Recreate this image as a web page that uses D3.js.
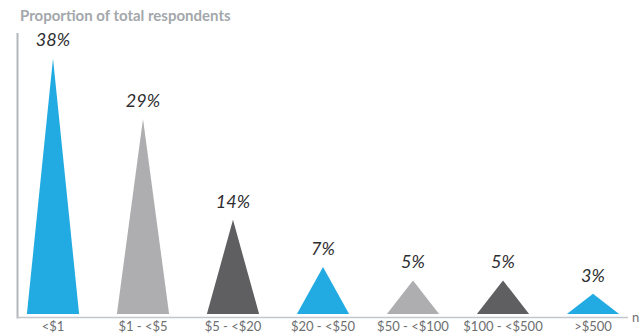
<!DOCTYPE html>
<html>
<head>
<meta charset="utf-8">
<script src="https://cdn.jsdelivr.net/npm/d3@7"></script>
<style>
  html, body { margin: 0; padding: 0; background: #fff; }
  svg { display: block; }
</style>
</head>
<body>
<svg id="chart" width="643" height="333"></svg>
<script>
// Spending brackets and share of respondents in each
const categories = ["<$1", "$1 - <$5", "$5 - <$20", "$20 - <$50", "$50 - <$100", "$100 - <$500", ">$500"];
const shares = [38, 29, 14, 7, 5, 5, 3];
const colors = ["#22abe2", "#aeaeb0", "#5f5f61", "#22abe2", "#aeaeb0", "#5f5f61", "#22abe2"];
const title = "Proportion of total respondents";
const sampleLabel = "n";

const W = 643, H = 333;
const svg = d3.select("#chart");
const font = "Lato, 'Open Sans', 'DejaVu Sans', sans-serif";

const baseY = 314;
const x = d3.scaleBand().domain(categories).range([8, 638]).paddingInner(0.42).paddingOuter(0.21);
const y = d3.scaleLinear().domain([0, 40]).range([baseY, 45]);

// Title
svg.append("text")
  .attr("x", 20).attr("y", 21)
  .attr("font-family", font).attr("font-weight", 700).attr("font-size", 15)
  .attr("fill", "#a3a7ab")
  .text(title);

// Vertical axis line
svg.append("line")
  .attr("x1", 17.5).attr("x2", 17.5).attr("y1", 33).attr("y2", 318.5)
  .attr("stroke", "#b3b7bb").attr("stroke-width", 2);

// Horizontal axis line
svg.append("line")
  .attr("x1", 17).attr("x2", 628).attr("y1", 317.5).attr("y2", 317.5)
  .attr("stroke", "#c3c7cb").attr("stroke-width", 1.5);

// Triangular markers
const data = categories.map((c, i) => ({ c, v: shares[i], col: colors[i] }));
svg.append("g").selectAll("path").data(data).join("path")
  .attr("d", d => {
    const x0 = x(d.c), x1 = x(d.c) + x.bandwidth(), xm = x(d.c) + x.bandwidth() / 2;
    return `M${x0},${y(0)}L${xm},${y(d.v)}L${x1},${y(0)}Z`;
  })
  .attr("fill", d => d.col);

// Value labels above each apex
svg.append("g").selectAll("text").data(data).join("text")
  .attr("x", d => x(d.c) + x.bandwidth() / 2)
  .attr("y", d => y(d.v) - 12)
  .attr("text-anchor", "middle")
  .attr("font-family", font).attr("font-style", "italic").attr("font-size", 18)
  .attr("fill", "#2e2e30")
  .text(d => d.v + "%");

// Category labels via bottom axis
const axis = svg.append("g")
  .attr("transform", `translate(0,${317})`)
  .call(d3.axisBottom(x).tickSize(0).tickPadding(5));
axis.select(".domain").remove();
axis.selectAll("text")
  .attr("font-family", font).attr("font-size", 13)
  .attr("fill", "#6d6e70");

// Sample-size marker at the axis end
svg.append("text")
  .attr("x", 632).attr("y", 322)
  .attr("font-family", font).attr("font-size", 13)
  .attr("fill", "#6d6e70")
  .text(sampleLabel);
</script>
</body>
</html>
